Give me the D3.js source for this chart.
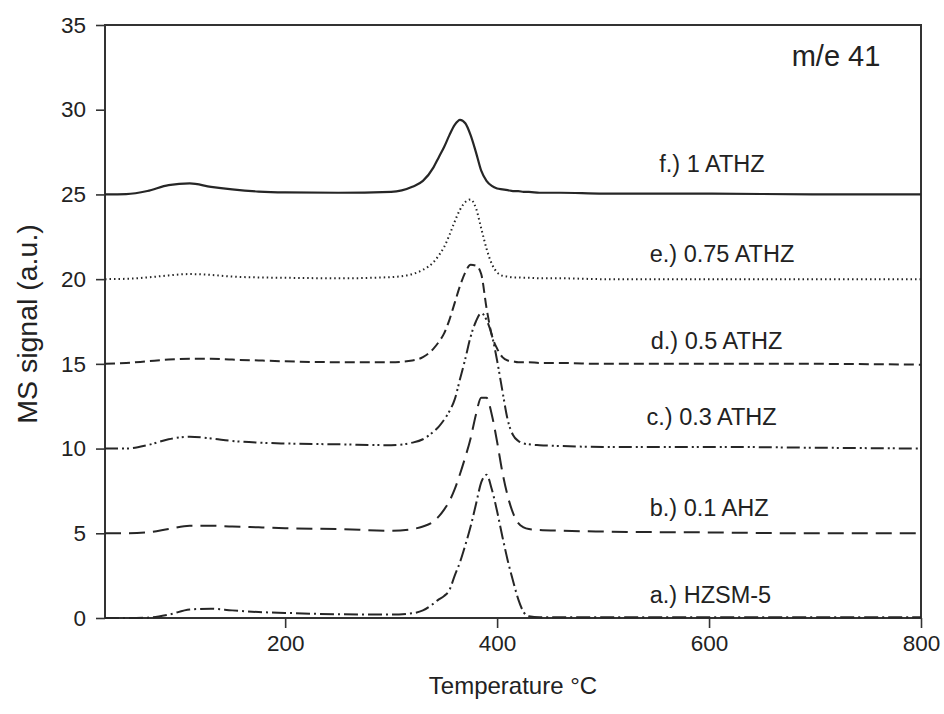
<!DOCTYPE html>
<html>
<head>
<meta charset="utf-8">
<script src="https://cdn.jsdelivr.net/npm/d3@7"></script>
<style>
    body { margin: 0; background: #fff; }
    text { font-family: "Liberation Sans", Arial, sans-serif; fill: #222; }
</style>
</head>
<body>
<svg id="chart" width="944" height="714"></svg>
<script>
/*globals d3:true */

// temperature grid (°C) shared by all traces
var temps = [30, 50, 70, 90, 110, 130, 150, 175, 200, 250,
             300, 320, 330, 340, 345, 350, 355, 360, 365, 370,
             375, 380, 385, 390, 395, 400, 405, 410, 415, 420,
             425, 430, 440, 460, 500, 600, 700, 800];

// MS signal, one array per sample
var hzsm5 = [0.0, 0.0, 0.02, 0.2, 0.5, 0.55, 0.45, 0.35, 0.3, 0.22,
             0.2, 0.28, 0.45, 0.85, 1.1, 1.3, 1.65, 2.5, 3.3, 4.3,
             5.4, 6.7, 8.0, 8.45, 7.6, 6.3, 4.8, 3.4, 2.2, 1.1,
             0.35, 0.1, 0.05, 0.05, 0.05, 0.05, 0.05, 0.05];
var ahz01 = [5.0, 5.0, 5.05, 5.25, 5.45, 5.45, 5.4, 5.35, 5.3, 5.25,
             5.15, 5.25, 5.4, 5.7, 6.0, 6.4, 6.9, 7.6, 8.5, 9.5,
             10.6, 12.0, 13.0, 13.0, 12.0, 10.4, 8.6, 7.2, 6.2, 5.6,
             5.35, 5.25, 5.2, 5.15, 5.1, 5.05, 5.0, 5.0];
var athz03 = [10.0, 10.0, 10.2, 10.55, 10.7, 10.6, 10.45, 10.35, 10.3, 10.25,
              10.2, 10.35, 10.55, 11.0, 11.3, 11.7, 12.2, 12.9, 14.1, 15.3,
              16.6, 17.5, 18.0, 17.6, 16.7, 15.2, 13.4, 11.7, 10.8, 10.45,
              10.3, 10.25, 10.2, 10.15, 10.1, 10.1, 10.05, 10.0];
var athz05 = [15.0, 15.05, 15.15, 15.25, 15.3, 15.3, 15.25, 15.2, 15.15, 15.1,
              15.1, 15.2, 15.4, 15.9, 16.3, 16.8, 17.6, 18.6, 19.6, 20.4,
              20.85, 20.8, 20.3, 18.3, 16.7, 15.9, 15.4, 15.2, 15.15, 15.1,
              15.1, 15.1, 15.05, 15.05, 15.0, 15.0, 15.0, 14.95];
var athz075 = [20.0, 20.02, 20.1, 20.22, 20.3, 20.25, 20.15, 20.1, 20.08, 20.05,
               20.12, 20.3, 20.55, 21.0, 21.4, 21.9, 22.6, 23.4, 24.1, 24.55,
               24.7, 24.2, 23.0, 21.8, 20.9, 20.4, 20.2, 20.15, 20.1, 20.1,
               20.08, 20.08, 20.05, 20.05, 20.0, 20.0, 20.0, 20.0];
var athz1 = [25.0, 25.02, 25.2, 25.55, 25.65, 25.45, 25.3, 25.17, 25.12, 25.1,
             25.15, 25.45, 25.8, 26.6, 27.2, 27.8, 28.5, 29.1, 29.4, 29.2,
             28.5, 27.5, 26.4, 25.8, 25.5, 25.35, 25.3, 25.25, 25.2, 25.2,
             25.15, 25.15, 25.1, 25.1, 25.05, 25.05, 25.0, 25.0];

var seriesNames = ['a.) HZSM-5', 'b.) 0.1 AHZ', 'c.) 0.3 ATHZ',
                   'd.) 0.5 ATHZ', 'e.) 0.75 ATHZ', 'f.) 1 ATHZ'];
var seriesValues = [hzsm5, ahz01, athz03, athz05, athz075, athz1];
var labelT = [544, 544, 541, 545, 544, 553];
var labelY = [0.9, 6.0, 11.4, 15.9, 21.0, 26.3];

var xTicks = [200, 400, 600, 800];
var yTicks = [0, 5, 10, 15, 20, 25, 30, 35];

// dash patterns roughly as printed
var dashes = ['14,4,2,4', '16,8', '13,4,2,3,2,4', '10,5', '1.5,3', null];

var margin = { top: 25, right: 23, bottom: 96, left: 105 };
var width = 944 - margin.left - margin.right;
var height = 714 - margin.top - margin.bottom;

var svg = d3.select('#chart');
var g = svg.append('g')
    .attr('transform', 'translate(' + margin.left + ',' + margin.top + ')');

var x = d3.scaleLinear().domain([30, 800]).range([0, width]);
var y = d3.scaleLinear().domain([0, 35]).range([height, 0]);

var xAxis = g.append('g')
    .attr('transform', 'translate(0,' + height + ')')
    .call(d3.axisBottom(x).tickValues(xTicks).tickSize(10).tickSizeOuter(0).tickPadding(7));

var yAxis = g.append('g')
    .call(d3.axisLeft(y).tickValues(yTicks).tickSize(9).tickSizeOuter(0).tickPadding(10));

[xAxis, yAxis].forEach(function (ax) {
    ax.select('.domain').remove();
    ax.selectAll('line').attr('stroke', '#333').attr('stroke-width', 1.6);
    ax.selectAll('text').style('font-size', '22.5px').attr('fill', '#222');
});

// frame
g.append('rect')
    .attr('width', width)
    .attr('height', height)
    .attr('fill', 'none')
    .attr('stroke', '#333')
    .attr('stroke-width', 2);

var line = d3.line()
    .x(function (d) { return x(d[0]); })
    .y(function (d) { return y(d[1]); })
    .curve(d3.curveMonotoneX);

seriesValues.forEach(function (vals, i) {
    var pts = temps.map(function (t, k) { return [t, vals[k]]; });
    g.append('path')
        .datum(pts)
        .attr('d', line)
        .attr('fill', 'none')
        .attr('stroke', '#262626')
        .attr('stroke-width', i === 5 ? 2.2 : 2)
        .attr('stroke-dasharray', dashes[i]);

    g.append('text')
        .attr('x', x(labelT[i]))
        .attr('y', y(labelY[i]))
        .style('font-size', '23.5px')
        .text(seriesNames[i]);
});

g.append('text')
    .attr('x', x(678))
    .attr('y', y(32.6))
    .style('font-size', '29px')
    .text('m/e 41');

svg.append('text')
    .attr('x', margin.left + width / 2)
    .attr('y', 694)
    .attr('text-anchor', 'middle')
    .style('font-size', '24px')
    .text('Temperature °C');

svg.append('text')
    .attr('transform', 'translate(37,' + (margin.top + 299) + ') rotate(-90)')
    .attr('text-anchor', 'middle')
    .style('font-size', '28.5px')
    .text('MS signal (a.u.)');
</script>
</body>
</html>
